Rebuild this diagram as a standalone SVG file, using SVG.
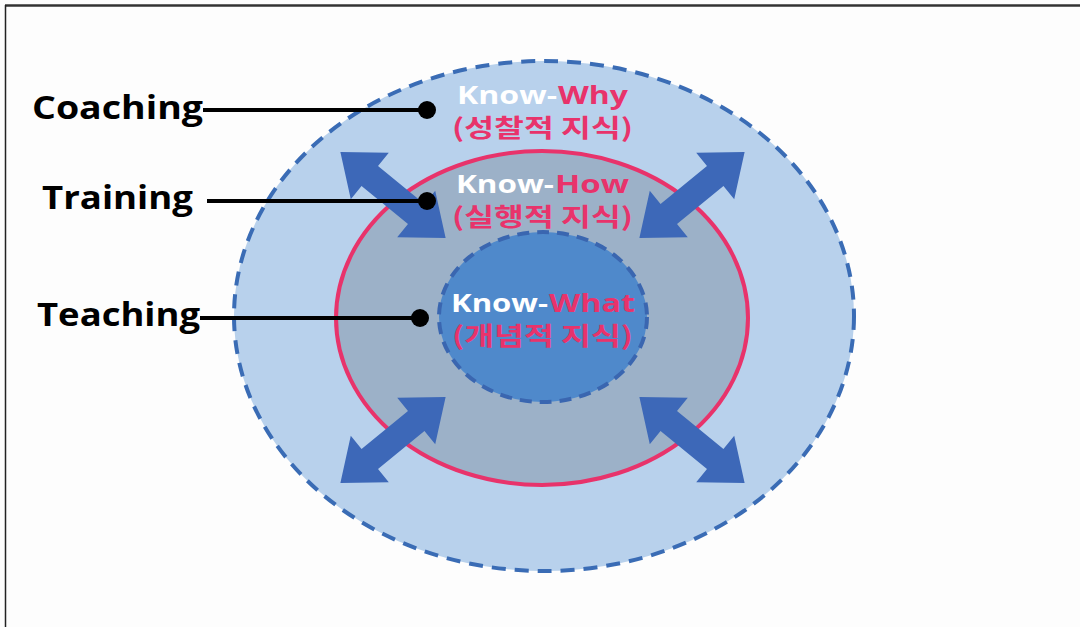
<svg xmlns="http://www.w3.org/2000/svg" width="1080" height="627" viewBox="0 0 1080 627">
<style>
.lbl{font-family:"Open Sans","DejaVu Sans",sans-serif;font-weight:bold;font-size:33px;fill:#000}
.kn{font-family:"Open Sans","DejaVu Sans",sans-serif;font-weight:bold;font-size:25px;fill:#ffffff}
.pk{fill:#e8336b}
.ko{font-family:"Noto Sans CJK KR","Noto Sans",sans-serif;font-weight:bold;font-size:25px;fill:#e8336b}
.lead{stroke:#000;stroke-width:4;fill:none}
.arrow{fill:#3d68b8}
</style>
<defs>
<polygon id="dbl" points="-68,0 -30,-30 -30,-13 30,-13 30,-30 68,0 30,30 30,13 -30,13 -30,30"/>
</defs>
<rect x="0" y="0" width="1080" height="627" fill="#fdfdfd"/>
<line x1="5" y1="5.5" x2="1080" y2="5.5" stroke="#333" stroke-width="2.5"/>
<line x1="5.5" y1="5" x2="5.5" y2="627" stroke="#222" stroke-width="1.5"/>

<g id="outer">
<ellipse cx="544" cy="316" rx="310" ry="255" fill="#b8d1ec" stroke="#3a6cb5" stroke-width="4" stroke-dasharray="14 9"/>
</g>
<g id="middle">
<ellipse cx="542" cy="318" rx="206" ry="167" fill="#9cb1c8" stroke="#e8336b" stroke-width="4"/>
</g>
<g id="arrows" class="arrow">
<use href="#dbl" transform="translate(393,195) rotate(39.3)"/>
<use href="#dbl" transform="translate(692,195) rotate(-39.3)"/>
<use href="#dbl" transform="translate(393,440) rotate(-39.3)"/>
<use href="#dbl" transform="translate(692,440) rotate(39.3)"/>
</g>
<g id="inner">
<ellipse cx="543" cy="317" rx="104" ry="85" fill="#4f89cb" stroke="#3a66b0" stroke-width="4" stroke-dasharray="12 8"/>
</g>

<g id="connectors">
<line class="lead" x1="203" y1="110" x2="425" y2="110"/>
<circle cx="427" cy="110" r="9" fill="#000"/>
<line class="lead" x1="207" y1="201" x2="425" y2="201"/>
<circle cx="427" cy="201" r="9" fill="#000"/>
<line class="lead" x1="200" y1="318" x2="418" y2="318"/>
<circle cx="420" cy="318" r="9" fill="#000"/>
</g>

<g id="label-coaching"><text class="lbl" x="32" y="119" textLength="171" lengthAdjust="spacingAndGlyphs">Coaching</text></g>
<g id="label-training"><text class="lbl" x="42" y="209" textLength="151" lengthAdjust="spacingAndGlyphs">Training</text></g>
<g id="label-teaching"><text class="lbl" x="37" y="326" textLength="163" lengthAdjust="spacingAndGlyphs">Teaching</text></g>

<g id="know-why">
<text class="kn" x="457" y="104" textLength="100" lengthAdjust="spacingAndGlyphs">Know-</text>
<text class="kn pk" x="558" y="104" textLength="70" lengthAdjust="spacingAndGlyphs">Why</text>
<text class="ko" x="452" y="137" textLength="181" lengthAdjust="spacingAndGlyphs">(성찰적 지식)</text>
</g>
<g id="know-how">
<text class="kn" x="456" y="193" textLength="98" lengthAdjust="spacingAndGlyphs">Know-</text>
<text class="kn pk" x="555" y="193" textLength="74" lengthAdjust="spacingAndGlyphs">How</text>
<text class="ko" x="452" y="226" textLength="181" lengthAdjust="spacingAndGlyphs">(실행적 지식)</text>
</g>
<g id="know-what">
<text class="kn" x="451" y="312" textLength="97" lengthAdjust="spacingAndGlyphs">Know-</text>
<text class="kn pk" x="549" y="312" textLength="86" lengthAdjust="spacingAndGlyphs">What</text>
<text class="ko" x="452" y="345" textLength="181" lengthAdjust="spacingAndGlyphs">(개념적 지식)</text>
</g>
</svg>
